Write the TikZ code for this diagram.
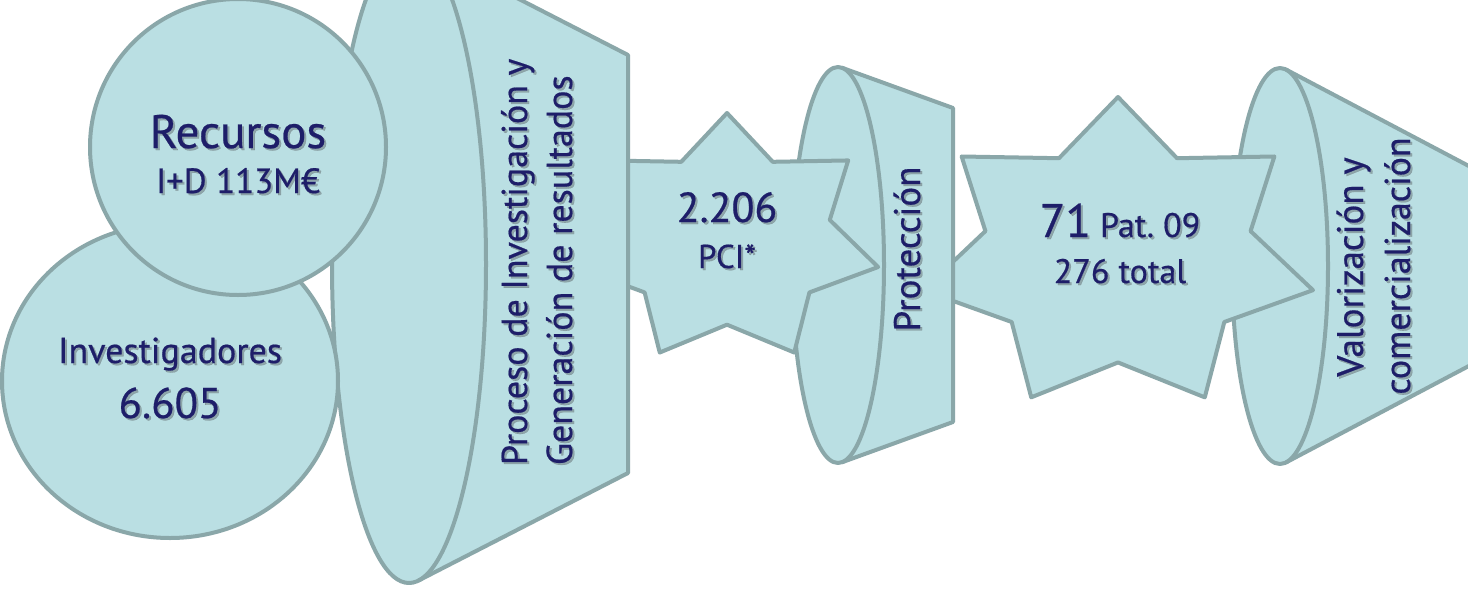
\documentclass[tikz,border=0pt]{standalone}
\usepackage{fontspec}
\setmainfont{PT Sans}[FakeBold=0.5]
\usetikzlibrary{calc}

\definecolor{shapefillc}{RGB}{186,223,227}
\definecolor{shapelinec}{RGB}{138,167,169}
\definecolor{inkc}{RGB}{30,30,105}
\definecolor{shadowc}{RGB}{100,110,115}

\tikzset{
  shapestyle/.style={fill=shapefillc, draw=shapelinec, line width=4pt, line join=round},
  txt/.style={text=inkc, inner sep=0pt, outer sep=0pt},
  txtshadow/.style={text=shadowc, text opacity=0.5},
}

\newcommand\fsz[1]{\fontsize{#1}{#1}\selectfont}

% text with a soft drop shadow: [options]{name}{position}{text}
\newcommand\shtext[4][]{%
  \node[txt,txtshadow,#1] (#2-sh) at ($(#3)+(2,2)$) {#4};
  \node[txt,#1] (#2) at (#3) {#4};
}

% funnel: {name}{cx}{cy}{rx}{ry}{right x}{top y}{bottom y}
% the side lines run tangent to the ellipse
\newcommand\funnelshape[8]{%
  \pgfmathsetmacro\fnu{(#6-#2)/#4}%
  \pgfmathsetmacro\fnvt{(#7-#3)/#5}%
  \pgfmathsetmacro\fnvb{(#8-#3)/#5}%
  \pgfmathsetmacro\fnat{atan2(\fnvt,\fnu)-acos(1/sqrt(\fnu*\fnu+\fnvt*\fnvt))}%
  \pgfmathsetmacro\fnab{atan2(\fnvb,\fnu)+acos(1/sqrt(\fnu*\fnu+\fnvb*\fnvb))}%
  \coordinate (#1-c) at (#2,#3);
  \coordinate (#1-tt) at ({#2+#4*cos(\fnat)},{#3+#5*sin(\fnat)});
  \coordinate (#1-tb) at ({#2+#4*cos(\fnab)},{#3+#5*sin(\fnab)});
  \coordinate (#1-rt) at (#6,#7);
  \coordinate (#1-rb) at (#6,#8);
  \fill[shapefillc] (#1-tt) -- (#1-rt) -- (#1-rb) -- (#1-tb) -- (#1-c) -- cycle;
  \draw[shapestyle] (#1-c) ellipse [x radius=#4, y radius=#5];
  \draw[shapestyle, fill=none] (#1-tt) -- (#1-rt) -- (#1-rb) -- (#1-tb);
}

% seven-pointed star: {cx}{cy}{x radius}{y radius}
\newcommand\starshape[4]{%
  \draw[shapestyle] ({#1},{#2-#4})
    \foreach \k in {1,...,13}{
      -- ({#1+(1-0.32*mod(\k,2))*#3*cos(90+\k*360/14)},{#2-(1-0.32*mod(\k,2))*#4*sin(90+\k*360/14)})
    } -- cycle;
}

\begin{document}
\begin{tikzpicture}[x=1pt,y=-1pt]
  \useasboundingbox (0,0) rectangle (1468,592);
  \fill[white] (0,0) rectangle (1468,592);
  \clip (0,0) rectangle (1468,592);

  % stages, from back to front
  \funnelshape{valor}{1280}{266}{48}{198}{1520}{193}{339}
  \starshape{1118}{255}{200}{158}
  \funnelshape{prot}{838}{265}{46}{198}{953}{108}{422}
  \starshape{727}{239}{155}{126}
  \funnelshape{proc}{409}{264}{77}{319}{628}{55}{473}

  % inputs
  \draw[shapestyle] (170,381) ellipse [x radius=168, y radius=157];
  \draw[shapestyle] (238,147) circle [radius=148];

  % labels
  \shtext[anchor=base, font=\fsz{47}]{recursos}{238,148}{Recursos}
  \shtext[anchor=base, font=\fsz{35}]{idmonto}{238,193}{I+D 113M€}
  \shtext[anchor=base, font=\fsz{36}]{investig}{170,363}{Investigadores}
  \shtext[anchor=base, font=\fsz{43}]{invnum}{170,418}{6.605}

  \shtext[anchor=base west, rotate=90, font=\fsz{36}]{proc1}{527,465}{Proceso de Investigación y}
  \shtext[anchor=base west, rotate=90, font=\fsz{36}]{proc2}{572,465}{Generación de resultados}

  \shtext[anchor=base, font=\fsz{42}]{pcinum}{727,222}{2.206}
  \shtext[anchor=base, font=\fsz{33}]{pcilab}{727,268}{PCI*}

  \shtext[anchor=base, rotate=90, font=\fsz{37}]{protlab}{920,249}{Protección}

  \shtext[anchor=base]{patnum}{1120,237}{\fsz{47}71\fsz{34} Pat.~09}
  \shtext[anchor=base, font=\fsz{34}]{pattot}{1120,283}{276 total}

  \shtext[anchor=base, rotate=90, font=\fsz{37}]{valor1}{1363,267}{Valorización y}
  \shtext[anchor=base, rotate=90, font=\fsz{36}]{valor2}{1410,266}{comercialización}
\end{tikzpicture}
\end{document}
